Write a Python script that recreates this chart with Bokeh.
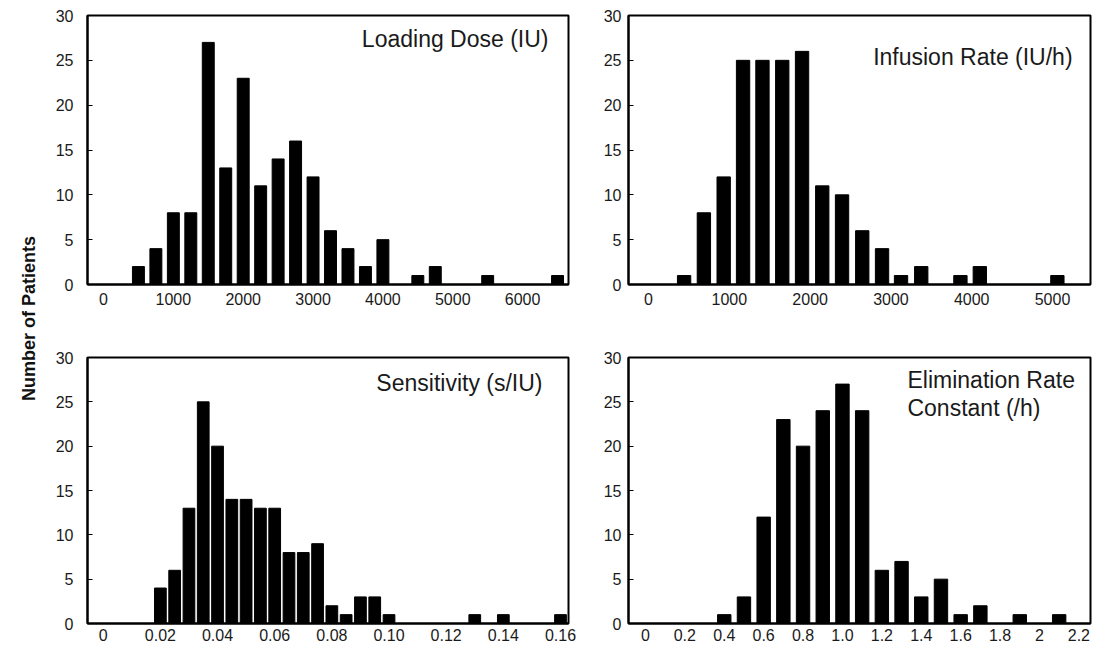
from math import pi
from bokeh.plotting import figure
from bokeh.layouts import row, column
from bokeh.models import Range1d, FixedTicker, Label
from bokeh.embed import file_html
from bokeh.resources import INLINE

# ---------------- data ----------------
load_x = [500, 750, 1000, 1250, 1500, 1750, 2000, 2250, 2500, 2750, 3000,
          3250, 3500, 3750, 4000, 4500, 4750, 5500, 6500]
load_n = [2, 4, 8, 8, 27, 13, 23, 11, 14, 16, 12, 6, 4, 2, 5, 1, 2, 1, 1]

inf_x = [440, 685, 930, 1170, 1410, 1655, 1900, 2150, 2395, 2645, 2890,
         3125, 3375, 3860, 4100, 5060]
inf_n = [1, 8, 12, 25, 25, 25, 26, 11, 10, 6, 4, 1, 2, 1, 2, 1]

sens_x = [0.020, 0.025, 0.030, 0.035, 0.040, 0.045, 0.050, 0.055, 0.060,
          0.065, 0.070, 0.075, 0.080, 0.085, 0.090, 0.095, 0.100, 0.130,
          0.140, 0.160]
sens_n = [4, 6, 13, 25, 20, 14, 14, 13, 13, 8, 8, 9, 2, 1, 3, 3, 1, 1, 1, 1]

elim_x = [0.4, 0.5, 0.6, 0.7, 0.8, 0.9, 1.0, 1.1, 1.2, 1.3, 1.4, 1.5, 1.6,
          1.7, 1.9, 2.1]
elim_n = [1, 3, 12, 23, 20, 24, 27, 24, 6, 7, 3, 5, 1, 2, 1, 1]

load_ticks = [0, 1000, 2000, 3000, 4000, 5000, 6000]
load_labels = ["0", "1000", "2000", "3000", "4000", "5000", "6000"]
inf_ticks = [0, 1000, 2000, 3000, 4000, 5000]
inf_labels = ["0", "1000", "2000", "3000", "4000", "5000"]
sens_ticks = [0, 0.02, 0.04, 0.06, 0.08, 0.10, 0.12, 0.14, 0.16]
sens_labels = ["0", "0.02", "0.04", "0.06", "0.08", "0.10", "0.12", "0.14", "0.16"]
elim_ticks = [0, 0.2, 0.4, 0.6, 0.8, 1.0, 1.2, 1.4, 1.6, 1.8, 2.0, 2.2]
elim_labels = ["0", "0.2", "0.4", "0.6", "0.8", "1.0", "1.2", "1.4", "1.6", "1.8", "2", "2.2"]
y_ticks = [0, 5, 10, 15, 20, 25, 30]

FONT = "Liberation Sans"


def panel(xs, ns, bar_w, xr, ticks, labels, w, h, bl, br, bt, bb, xstand, ystand):
    p = figure(width=w, height=h, x_range=Range1d(*xr), y_range=Range1d(0, 30),
               output_backend="svg", toolbar_location=None,
               min_border_left=bl, min_border_right=br,
               min_border_top=bt, min_border_bottom=bb)
    p.vbar(x=xs, top=ns, width=bar_w, bottom=0, fill_color="black",
           line_color="black")
    p.grid.visible = False
    p.outline_line_color = "black"
    p.outline_line_width = 2
    p.background_fill_color = "white"
    p.border_fill_color = "white"
    p.xaxis.ticker = FixedTicker(ticks=ticks)
    p.xaxis.major_label_overrides = {t: l for t, l in zip(ticks, labels)}
    p.yaxis.ticker = FixedTicker(ticks=y_ticks)
    for ax in (p.xaxis, p.yaxis):
        ax.axis_line_width = 2
        ax.axis_line_color = "black"
        ax.minor_tick_line_color = None
        ax.major_label_text_font = FONT
        ax.major_label_text_font_size = "16px"
        ax.major_label_text_color = "#1a1a1a"
    p.xaxis.major_tick_in = 0
    p.xaxis.major_tick_out = 0
    p.xaxis.major_label_standoff = xstand
    p.yaxis.major_tick_in = 5
    p.yaxis.major_tick_out = 0
    p.yaxis.major_tick_line_width = 1
    p.yaxis.major_label_standoff = ystand
    return p


def title(p, x, y, text, align):
    p.add_layout(Label(x=x, y=y, text=text, text_align=align,
                       text_baseline="middle", text_font=FONT,
                       text_font_size="23px", text_color="#1a1a1a"))


# top row (frames: y 15..284)
p1 = panel(load_x, load_n, 171, (-229, 6657), load_ticks, load_labels,
           526, 330, 34, 10, 15, 46, 8, 14)
title(p1, 6371, 27.4, "Loading Dose (IU)", "right")

p2 = panel(inf_x, inf_n, 165, (-248, 5470), inf_ticks, inf_labels,
           532, 330, 50, 20, 15, 46, 8, 7)
title(p2, 5248, 25.4, "Infusion Rate (IU/h)", "right")

# bottom row (frames: y 357..623)
p3 = panel(sens_x, sens_n, 0.0041, (-0.0055, 0.1628), sens_ticks, sens_labels,
           526, 318, 34, 10, 27, 25, 5, 14)
title(p3, 0.1537, 27.1, "Sensitivity (s/IU)", "right")

p4 = panel(elim_x, elim_n, 0.068, (-0.086, 2.259), elim_ticks, elim_labels,
           532, 318, 50, 20, 27, 25, 5, 7)
title(p4, 1.33, 27.5, "Elimination Rate", "left")
title(p4, 1.33, 24.25, "Constant (/h)", "left")

# shared y-axis title
lab = figure(width=52, height=648, x_range=Range1d(0, 52), y_range=Range1d(0, 648),
             output_backend="svg", toolbar_location=None,
             min_border_left=0, min_border_right=0, min_border_top=0,
             min_border_bottom=0)
lab.axis.visible = False
lab.grid.visible = False
lab.outline_line_color = None
lab.add_layout(Label(x=28, y=330, text="Number of Patients", angle=pi / 2,
                     text_align="center", text_baseline="middle",
                     text_font=FONT, text_font_size="18px",
                     text_font_style="bold", text_color="#111111"))

layout = row(lab, column(row(p1, p2), row(p3, p4)))

open("out.html", "w").write(file_html(layout, INLINE))
